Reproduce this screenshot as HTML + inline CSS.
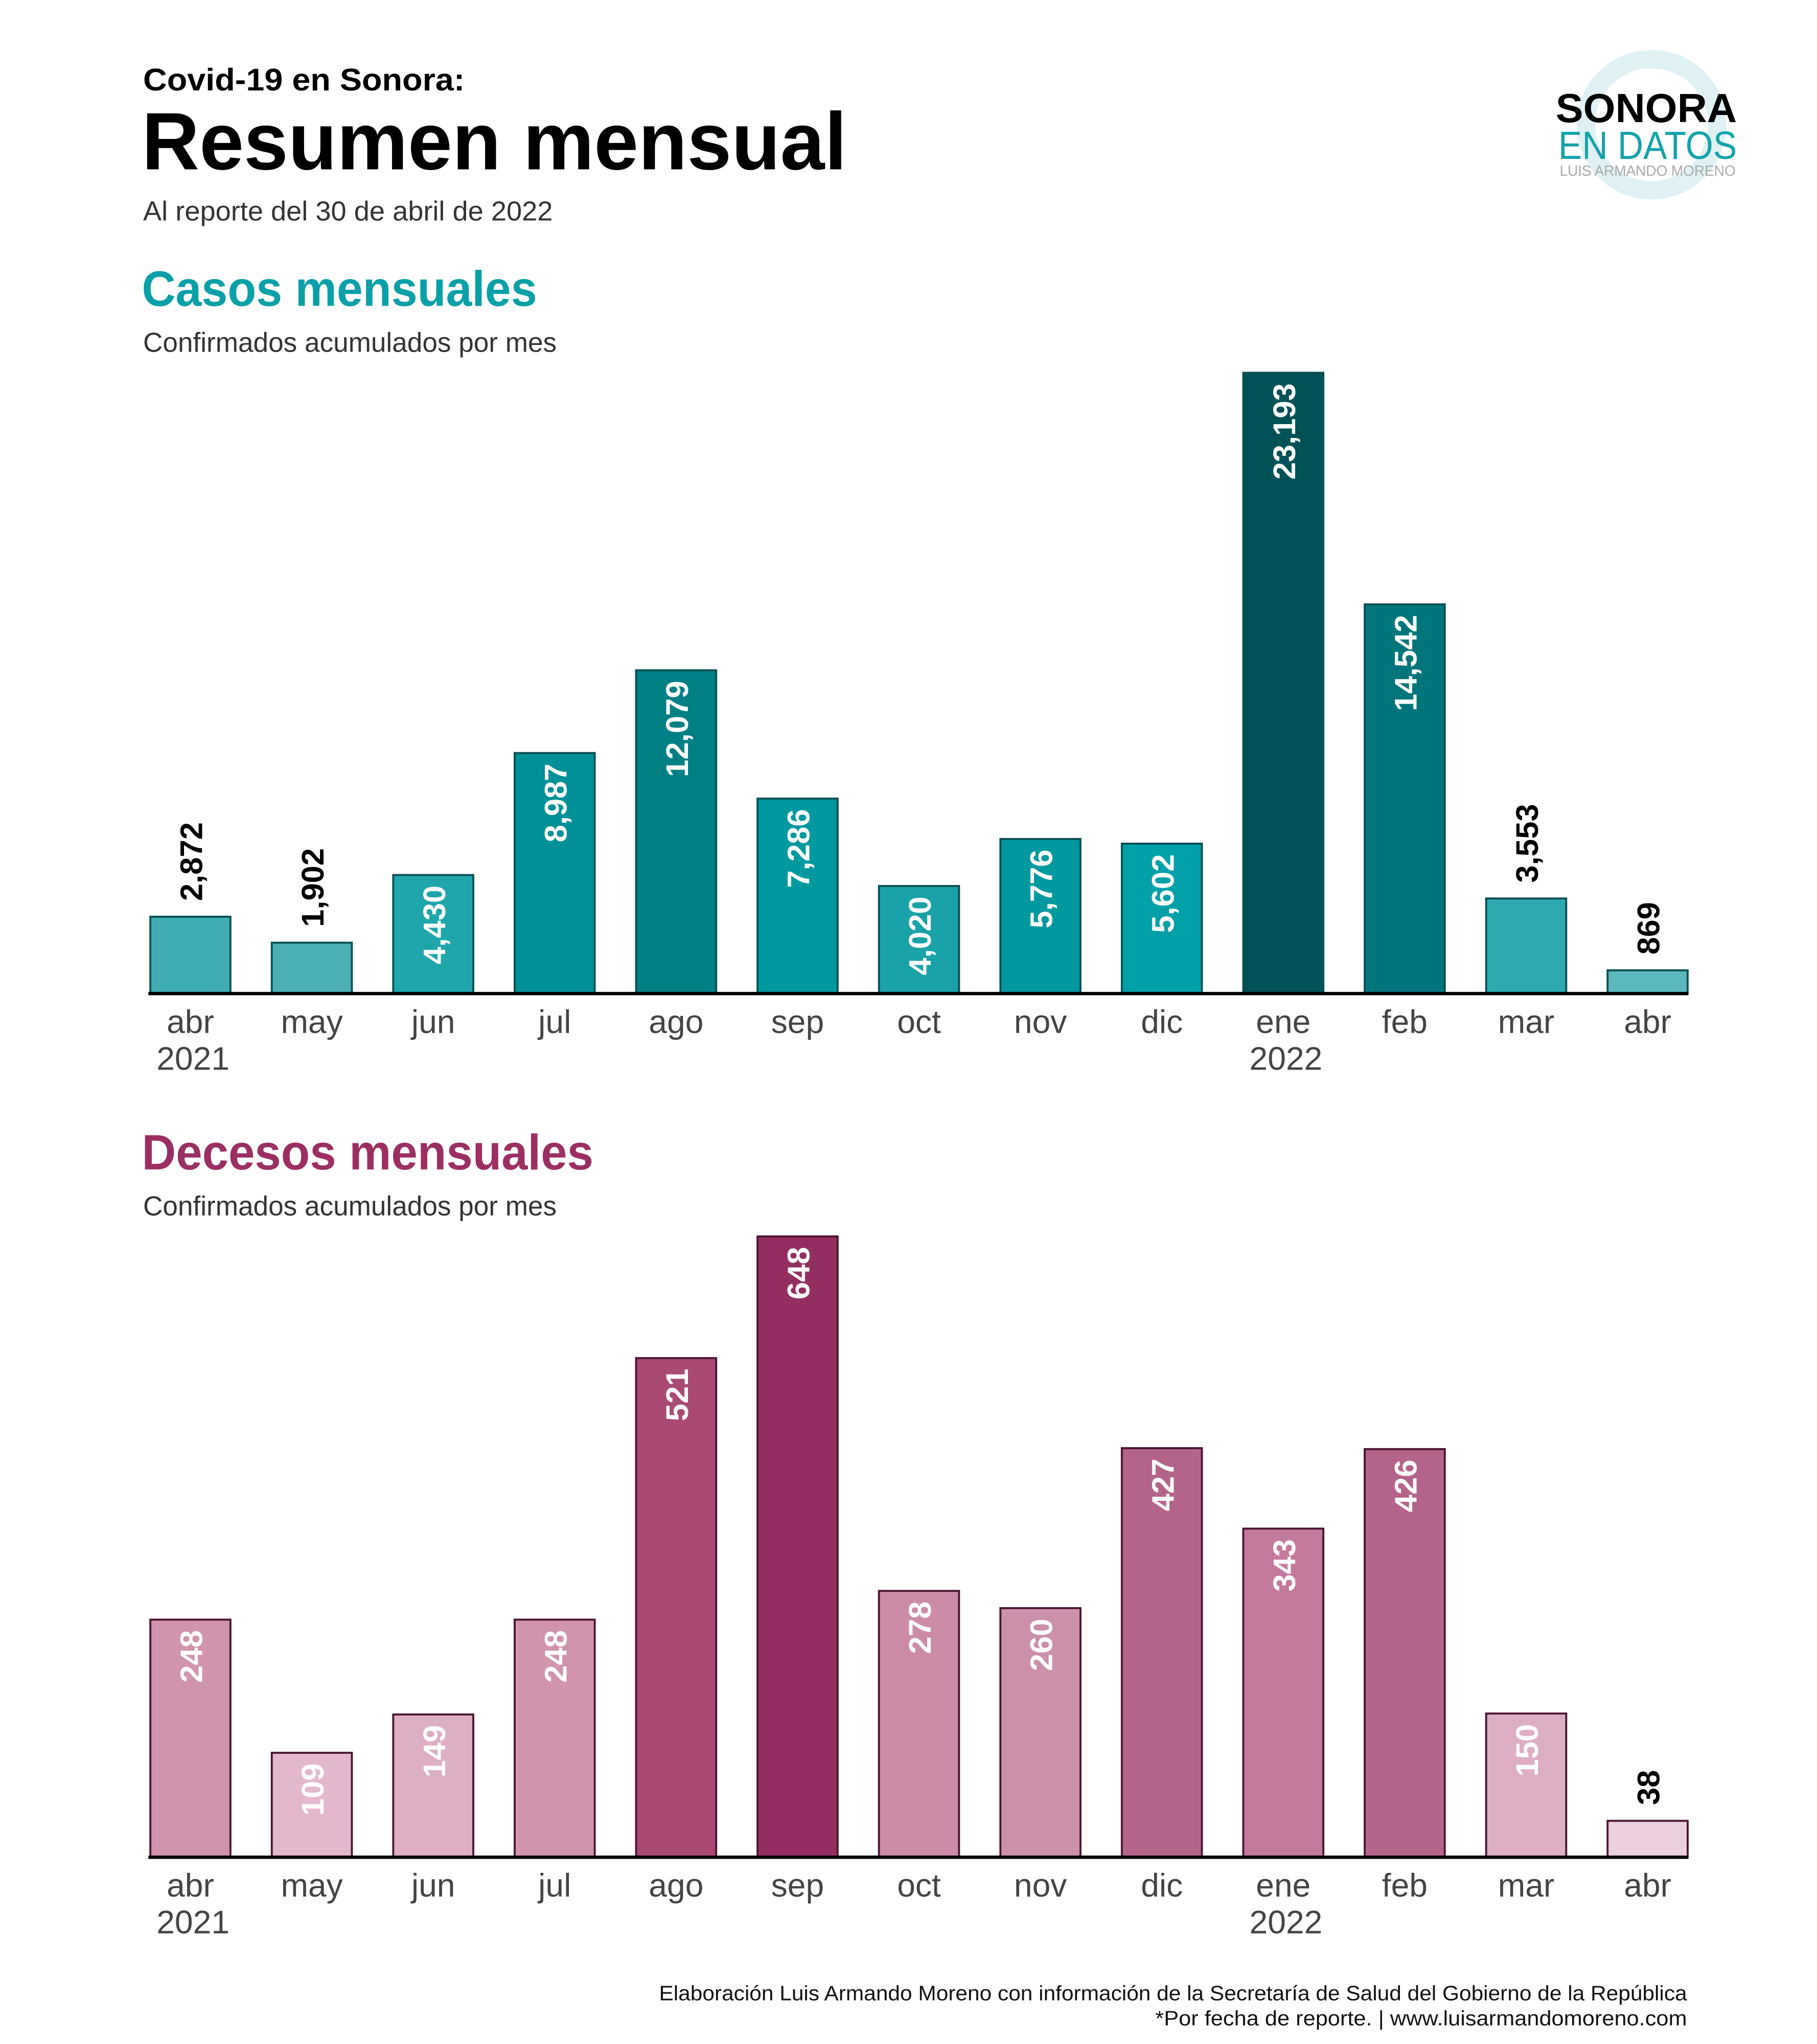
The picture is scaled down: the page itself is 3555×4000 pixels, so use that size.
<!DOCTYPE html>
<html><head><meta charset="utf-8"><style>
html,body{margin:0;padding:0;background:#fff;}
svg{display:block;font-family:"Liberation Sans",sans-serif;}
</style></head><body>
<svg id="root" width="3555" height="4000" viewBox="0 0 1384 1557.3" xmlns="http://www.w3.org/2000/svg">
<rect width="1384" height="1558" fill="#fff"/>
<g>
<text x="109" y="69" font-size="24" font-weight="bold" fill="#000" textLength="245" lengthAdjust="spacingAndGlyphs">Covid-19  en Sonora:</text>
<text x="108" y="129" font-size="62" font-weight="bold" fill="#000" textLength="537" lengthAdjust="spacingAndGlyphs">Resumen mensual</text>
<text x="109" y="168" font-size="21" fill="#333" textLength="312" lengthAdjust="spacingAndGlyphs">Al reporte del 30 de abril de 2022</text>
</g>
<g>
<circle cx="1258" cy="95" r="50" fill="none" stroke="#dff1f3" stroke-width="14"/>
<text x="1323" y="93" font-size="31" font-weight="bold" fill="#000" text-anchor="end" textLength="138" lengthAdjust="spacingAndGlyphs">SONORA</text>
<text x="1323" y="121" font-size="30" fill="#12a3ab" text-anchor="end" textLength="136" lengthAdjust="spacingAndGlyphs">EN DATOS</text>
<text x="1322" y="134" font-size="11" fill="#aaa" text-anchor="end" textLength="134">LUIS ARMANDO MORENO</text>
</g>
<text x="108" y="233" font-size="38" font-weight="bold" fill="#0aa0a8" textLength="301" lengthAdjust="spacingAndGlyphs">Casos mensuales</text>
<text x="109" y="268" font-size="21" fill="#333" textLength="315" lengthAdjust="spacingAndGlyphs">Confirmados acumulados por mes</text>
<g id="chart1"></g>
<text x="108" y="891" font-size="38" font-weight="bold" fill="#9b2f62" textLength="344" lengthAdjust="spacingAndGlyphs">Decesos mensuales</text>
<text x="109" y="926" font-size="21" fill="#333" textLength="315" lengthAdjust="spacingAndGlyphs">Confirmados acumulados por mes</text>
<g id="chart2"></g>
<g>
<text x="1285" y="1524" font-size="16" fill="#111" text-anchor="end" textLength="783" lengthAdjust="spacingAndGlyphs">Elaboración Luis Armando Moreno con información de la Secretaría de Salud del Gobierno de la República</text>
<text x="1285" y="1543" font-size="16" fill="#111" text-anchor="end" textLength="405" lengthAdjust="spacingAndGlyphs">*Por fecha de reporte. | www.luisarmandomoreno.com</text>
</g>
</svg>
<script>
const months = ["abr","may","jun","jul","ago","sep","oct","nov","dic","ene","feb","mar","abr"];
const years = ["2021","","","","","","","","","2022","","",""];
const casos = [2872,1902,4430,8987,12079,7286,4020,5776,5602,23193,14542,3553,869];
const casosColors = ["#3fadb2","#4ab0b6","#1ea6ab","#009098","#007f85","#0099a0","#19a2a8","#0099a0","#00a0a8","#005257","#00757b","#2ea9ae","#5bb8bd"];
const decesos = [248,109,149,248,521,648,278,260,427,343,426,150,38];
const decesosColors = ["#d094ac","#e4b8cc","#deaec4","#d094ac","#a84a74","#922f60","#cc8ca8","#cc90aa","#b4648a","#c47a9c","#b4648a","#deaec4","#eccfdd"];
const NS="http://www.w3.org/2000/svg";
function mk(tag,attrs,parent){const e=document.createElementNS(NS,tag);for(const k in attrs)e.setAttribute(k,attrs[k]);parent.appendChild(e);return e;}
function draw(gid,vals,cols,stroke,base,plotH,insideMin,name){
  const g=document.getElementById(gid);
  const max=Math.max(...vals);
  const y=v=>base-v/max*plotH;
  const x=i=>145+i*92.5;
  const bw=61;
  vals.forEach((v,i)=>{
    const r=mk('rect',{x:x(i)-bw/2,y:y(v),width:bw,height:base-y(v),fill:cols[i],stroke:stroke,'stroke-width':1.5},g);
    
    
    const inside=v>=insideMin;
    const label=v.toLocaleString('en-US');
    let ty, anchor;
    if(inside){ty=y(v)+8;anchor='end';}else{ty=y(v)-12;anchor='start';}
    const t=mk('text',{x:x(i)+9,y:ty,'font-size':24,'font-weight':'bold',fill:inside?'#fff':'#000','text-anchor':anchor,transform:`rotate(-90 ${x(i)+9} ${ty})`},g);
    t.textContent=label;
    
    
    const m=mk('text',{x:x(i),y:base+30,'font-size':25,fill:'#444','text-anchor':'middle'},g);
    m.textContent=months[i];
    
    
    if(years[i]){
      const yl=mk('text',{x:x(i)+2,y:base+58,'font-size':25,fill:'#444','text-anchor':'middle'},g);
      yl.textContent=years[i];
      
      
    }
  });
  const ax=mk('line',{x1:113,x2:1286,y1:base,y2:base,stroke:'#000','stroke-width':2.5},g);
  
  
}
draw('chart1',casos,casosColors,'#0a4f52',757,473,4000,'casos');
draw('chart2',decesos,decesosColors,'#4a1530',1415,473,100,'decesos');
</script>
</body></html>
